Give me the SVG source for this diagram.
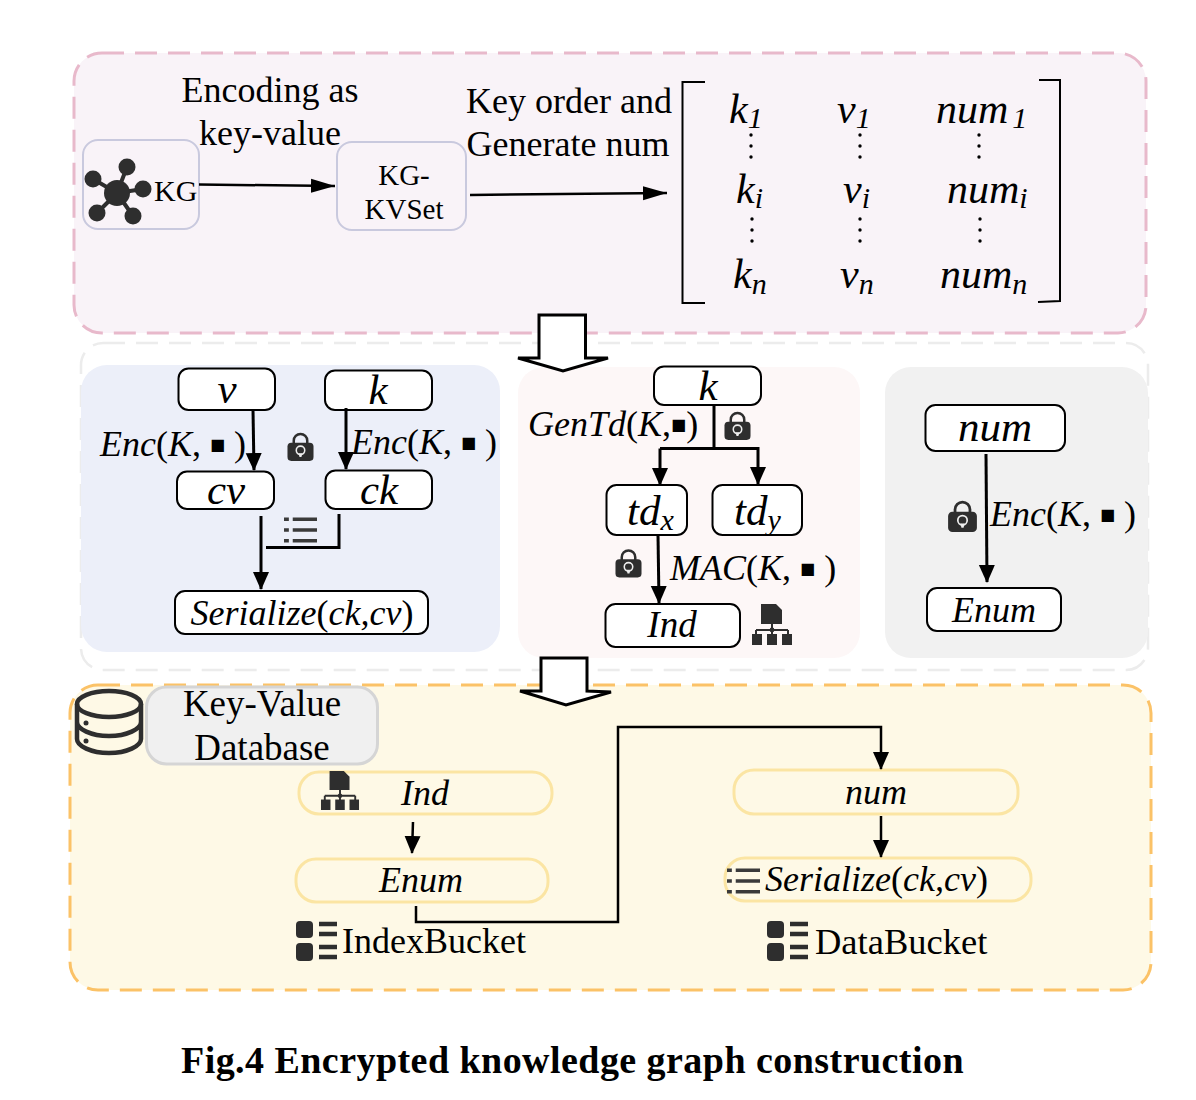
<svg xmlns="http://www.w3.org/2000/svg" xmlns:xlink="http://www.w3.org/1999/xlink" width="1196" height="1100" viewBox="0 0 1196 1100">
<style>
text{font-family:"Liberation Serif","Times New Roman",serif;fill:#000}
.i{font-style:italic}
.m{text-anchor:middle}
.n{fill:#fff;stroke:#000;stroke-width:2}
.y{fill:none;stroke:#fbe5a3;stroke-width:3}
.s{fill:none;stroke:#c9c9de;stroke-width:2}
.c{fill:none;stroke:#000;stroke-width:3}
.c2{fill:none;stroke:#000;stroke-width:2.5}
.b{fill:#fff;stroke:#000;stroke-width:3}
.d{fill:#2e2e2e}
.r{font-style:normal}
</style>
<defs>
<marker id="a" markerUnits="userSpaceOnUse" markerWidth="18" markerHeight="20" viewBox="0 0 18 20" refX="17" refY="10" orient="auto"><path d="M0 2L18 10L0 18Z" fill="#000"/></marker>
<marker id="a2" markerUnits="userSpaceOnUse" markerWidth="24" markerHeight="16" viewBox="0 0 24 16" refX="24" refY="8" orient="auto"><path d="M0 1L24 8L0 15Z" fill="#000"/></marker>
<symbol id="lock" viewBox="0 0 28 30"><path d="M7 13V9a7 7 0 0 1 14 0v4" fill="none" stroke="#2e2e2e" stroke-width="2.6"/><rect x="0.5" y="11" width="27" height="19" rx="4" fill="#2e2e2e"/><circle cx="14" cy="19" r="4.4" fill="none" stroke="#eee" stroke-width="1.6"/><path d="M12 22L13 26H15L16 22Z" fill="#eee"/></symbol>
<symbol id="list" viewBox="0 0 34 27"><path d="M0 3H5M9 3H34M0 14H5M9 14H34M0 25H5M9 25H34" stroke="#3a3a3a" stroke-width="3.6" fill="none"/></symbol>
<symbol id="tree" viewBox="0 0 40 41"><path d="M9 0H24L30 6V20H9Z" class="d"/><path d="M4 26H36M20 20V33M4 26V33M36 26V33" stroke="#2e2e2e" stroke-width="2" fill="none"/><circle cx="20" cy="26" r="2.4" class="d"/><rect x="0" y="30" width="10" height="11" class="d"/><rect x="15" y="30" width="10" height="11" class="d"/><rect x="30" y="30" width="10" height="11" class="d"/></symbol>
<symbol id="bucket" viewBox="0 0 41 40"><rect x="0" y="0" width="17" height="17" rx="4" class="d"/><rect x="0" y="22" width="17" height="18" rx="4" class="d"/><path d="M23 3H41M23 13H41M23 26H41M23 36H41" stroke="#2e2e2e" stroke-width="4.500" fill="none"/></symbol>
</defs>

<g id="panel-encoding"><rect x="74" y="53" width="1072" height="280" rx="28" fill="#f9f3f8" stroke="#e8b9cb" stroke-width="3" stroke-dasharray="22 11"/></g>
<g id="panel-encrypt"><rect x="81" y="343" width="1067" height="327" rx="22" fill="#fff" stroke="#ececec" stroke-width="2.500" stroke-dasharray="22 11"/></g>
<g id="panel-blue"><rect x="81" y="365" width="419" height="287" rx="26" fill="#eceff9"/></g>
<g id="panel-rose"><rect x="518" y="367" width="342" height="291" rx="26" fill="#fdf7f7"/></g>
<g id="panel-gray"><rect x="885" y="367" width="263" height="291" rx="26" fill="#f1f1f1"/></g>
<g id="panel-db"><rect x="70" y="685" width="1081" height="305" rx="28" fill="#fef9e6" stroke="#fbc267" stroke-width="3" stroke-dasharray="22 11"/></g>

<g id="block-arrow-1"><path class="b" d="M539 315H585.500V358L608 358L563 371L518 358L539 358Z"/></g>
<g id="block-arrow-2"><path class="b" d="M541 658H587V691L611 692L566 705L520 691L541 691Z"/></g>

<g id="label-encoding"><text class="m" x="270" y="102" font-size="36">Encoding as</text><text class="m" x="270" y="145" font-size="36">key-value</text></g>
<g id="label-keyorder"><text class="m" x="569" y="113" font-size="36">Key order and</text><text class="m" x="568" y="156" font-size="36">Generate num</text></g>

<g id="node-kg"><rect class="s" x="83" y="140" width="116" height="89" rx="15"/>
<path d="M117 193L127 167M117 193L93 179M117 193L143 189M117 193L97 213M117 193L133 216" stroke="#2e2e2e" stroke-width="4"/>
<circle class="d" cx="117" cy="193" r="13"/><circle class="d" cx="127" cy="167" r="8.500"/><circle class="d" cx="93" cy="179" r="8.500"/><circle class="d" cx="143" cy="189" r="8.500"/><circle class="d" cx="97" cy="213" r="8.500"/><circle class="d" cx="133" cy="216" r="8.500"/>
<text x="154" y="201" font-size="30">KG</text></g>
<g id="node-kvset"><rect class="s" x="337" y="142" width="129" height="88" rx="15"/><text class="m" x="404" y="185" font-size="29">KG-</text><text class="m" x="404" y="219" font-size="29">KVSet</text></g>

<g id="matrix">
<path d="M705 82H682.500V303H705M1039 80H1060V301L1038 302" fill="none" stroke="#000" stroke-width="2"/>
<g class="i" font-size="42">
<text x="729" y="123">k<tspan font-size="30" dy="5">1</tspan></text>
<text x="837" y="123">v<tspan font-size="30" dy="5">1</tspan></text>
<text x="936" y="123">num<tspan font-size="30" dy="5" dx="4">1</tspan></text>
<text x="736" y="203">k<tspan font-size="30" dy="5">i</tspan></text>
<text x="843" y="203">v<tspan font-size="30" dy="5">i</tspan></text>
<text x="947" y="203">num<tspan font-size="30" dy="5">i</tspan></text>
<text x="733" y="288">k<tspan font-size="30" dy="6">n</tspan></text>
<text x="840" y="288">v<tspan font-size="30" dy="6">n</tspan></text>
<text x="940" y="288">num<tspan font-size="30" dy="6">n</tspan></text>
</g>
<g fill="#000">
<circle cx="751" cy="135" r="1.700"/><circle cx="751" cy="146" r="1.700"/><circle cx="751" cy="157" r="1.700"/>
<circle cx="860" cy="135" r="1.700"/><circle cx="860" cy="146" r="1.700"/><circle cx="860" cy="157" r="1.700"/>
<circle cx="979" cy="135" r="1.700"/><circle cx="979" cy="146" r="1.700"/><circle cx="979" cy="157" r="1.700"/>
<circle cx="752" cy="219" r="1.700"/><circle cx="752" cy="230" r="1.700"/><circle cx="752" cy="241" r="1.700"/>
<circle cx="860" cy="219" r="1.700"/><circle cx="860" cy="230" r="1.700"/><circle cx="860" cy="241" r="1.700"/>
<circle cx="980" cy="219" r="1.700"/><circle cx="980" cy="230" r="1.700"/><circle cx="980" cy="241" r="1.700"/>
</g>
</g>

<g id="node-v"><rect class="n" x="178.500" y="368.500" width="96.500" height="41.500" rx="10"/><text class="m i" x="227" y="403" font-size="43">v</text></g>
<g id="node-k1"><rect class="n" x="325" y="370.500" width="107" height="39.500" rx="10"/><text class="m i" x="378" y="404" font-size="43">k</text></g>
<g id="node-cv"><rect class="n" x="177" y="471.500" width="97" height="37.500" rx="10"/><text class="m i" x="226" y="504" font-size="43">cv</text></g>
<g id="node-ck"><rect class="n" x="325.500" y="470.500" width="106.500" height="38.500" rx="10"/><text class="m i" x="379" y="504" font-size="43">ck</text></g>
<g id="node-serialize1"><rect class="n" x="175" y="591" width="253" height="43" rx="10"/><text class="m i" x="302" y="625" font-size="36">Serialize<tspan class="r">(</tspan>ck,cv<tspan class="r">)</tspan></text></g>
<g id="node-k2"><rect class="n" x="654" y="366.500" width="107" height="38.500" rx="10"/><text class="m i" x="708" y="400" font-size="43">k</text></g>
<g id="node-tdx"><rect class="n" x="606.500" y="485" width="80.500" height="50" rx="10"/><text class="i" x="627" y="525" font-size="43">td<tspan font-size="30" dy="5">x</tspan></text></g>
<g id="node-tdy"><rect class="n" x="712.500" y="485" width="89.500" height="50" rx="10"/><text class="i" x="734" y="525" font-size="43">td<tspan font-size="30" dy="5">y</tspan></text></g>
<g id="node-ind1"><rect class="n" x="605.500" y="604" width="134.500" height="43" rx="10"/><text class="m i" x="672" y="637" font-size="37">Ind</text></g>
<g id="node-num1"><rect class="n" x="925.500" y="405" width="139.500" height="46" rx="10"/><text class="m i" x="995" y="441" font-size="43">num</text></g>
<g id="node-enum1"><rect class="n" x="927" y="588" width="134" height="43" rx="10"/><text class="m i" x="994" y="622" font-size="36">Enum</text></g>

<g id="node-kvdb"><rect x="146.500" y="687" width="231" height="77" rx="20" fill="#f0f0f0" stroke="#d5d5d5" stroke-width="3"/><text class="m" x="262" y="716" font-size="37">Key-Value</text><text class="m" x="262" y="760" font-size="37">Database</text>
<g fill="none" stroke="#2e2e2e" stroke-width="4.500"><ellipse cx="109" cy="704" rx="32" ry="13"/><path d="M77 704V739C77 746 91 753 109 753S141 746 141 739V704M77 722C77 729 91 736 109 736S141 729 141 722"/></g><circle class="d" cx="86" cy="723" r="2.500"/><circle class="d" cx="86" cy="741" r="2.500"/></g>
<g id="node-ind2"><rect class="y" x="299" y="772" width="253" height="42" rx="20"/><text class="m i" x="425" y="805" font-size="36">Ind</text></g>
<g id="node-enum2"><rect class="y" x="296" y="859" width="252" height="43" rx="20"/><text class="m i" x="421" y="892" font-size="36">Enum</text></g>
<g id="node-num2"><rect class="y" x="734" y="770" width="284" height="44" rx="20"/><text class="m i" x="876" y="804" font-size="36">num</text></g>
<g id="node-serialize2"><rect class="y" x="725" y="858" width="306" height="43" rx="20"/><text class="i" x="765" y="891" font-size="36">Serialize<tspan class="r">(</tspan>ck,cv<tspan class="r">)</tspan></text></g>
<g id="label-indexbucket"><text x="342" y="953" font-size="36">IndexBucket</text></g>
<g id="label-databucket"><text x="815" y="954" font-size="36.500">DataBucket</text></g>

<g id="labels" font-size="36">
<text x="100" y="456" class="i">Enc<tspan class="r">(</tspan>K<tspan class="r">, <tspan font-size="16" dy="-6" font-family="DejaVu Sans">■</tspan><tspan dy="6"> )</tspan></tspan></text>
<text x="351" y="454" class="i">Enc<tspan class="r">(</tspan>K<tspan class="r">, <tspan font-size="16" dy="-6" font-family="DejaVu Sans">■</tspan><tspan dy="6"> )</tspan></tspan></text>
<text x="528" y="436" class="i">GenTd<tspan class="r">(</tspan>K<tspan class="r">,<tspan font-size="16" dy="-6" font-family="DejaVu Sans">■</tspan><tspan dy="6">)</tspan></tspan></text>
<text x="670" y="580" class="i">MAC<tspan class="r">(</tspan>K<tspan class="r">, <tspan font-size="16" dy="-6" font-family="DejaVu Sans">■</tspan><tspan dy="6"> )</tspan></tspan></text>
<text x="990" y="526" class="i">Enc<tspan class="r">(</tspan>K<tspan class="r">, <tspan font-size="16" dy="-6" font-family="DejaVu Sans">■</tspan><tspan dy="6"> )</tspan></tspan></text>
</g>

<g id="icons">
<use xlink:href="#lock" href="#lock" x="287" y="432" width="27" height="29"/>
<use xlink:href="#lock" href="#lock" x="724" y="411" width="27" height="29"/>
<use xlink:href="#lock" href="#lock" x="615" y="548" width="27" height="30"/>
<use xlink:href="#lock" href="#lock" x="947" y="500" width="31" height="32"/>
<use xlink:href="#list" href="#list" x="284" y="516" width="33" height="27"/>
<use xlink:href="#list" href="#list" x="727" y="867" width="33" height="27"/>
<use xlink:href="#tree" href="#tree" x="752" y="604" width="40" height="41"/>
<use xlink:href="#tree" href="#tree" x="320" y="771" width="40" height="39"/>
<use xlink:href="#bucket" href="#bucket" x="296" y="921" width="41" height="40"/>
<use xlink:href="#bucket" href="#bucket" x="767" y="921" width="41" height="40"/>
</g>

<g id="connectors">
<path class="c2" d="M199 184.500L335 186" marker-end="url(#a2)"/>
<path class="c2" d="M470 195L667 193" marker-end="url(#a2)"/>
<path class="c" d="M253 410L254 470" marker-end="url(#a)"/>
<path class="c" d="M346 408V469" marker-end="url(#a)"/>
<path class="c" d="M261 516V589" marker-end="url(#a)"/>
<path class="c" d="M339 514V547.500H266"/>
<path class="c" d="M714 405V448"/>
<path class="c" d="M660 448.500H758V484" marker-end="url(#a)"/>
<path class="c" d="M660 448.500V485" marker-end="url(#a)"/>
<path class="c" d="M658 535L659 603" marker-end="url(#a)"/>
<path class="c" d="M986 454L987 582" marker-end="url(#a)"/>
<path class="c2" d="M413 822L412 853" marker-end="url(#a)"/>
<path class="c2" d="M416 906V922H618V727H881V769" marker-end="url(#a)"/>
<path class="c2" d="M881 816V857" marker-end="url(#a)"/>
</g>

<g id="caption"><text x="181" y="1073" font-size="38" font-weight="700" letter-spacing="0.45">Fig.4 Encrypted knowledge graph construction</text></g>
</svg>
